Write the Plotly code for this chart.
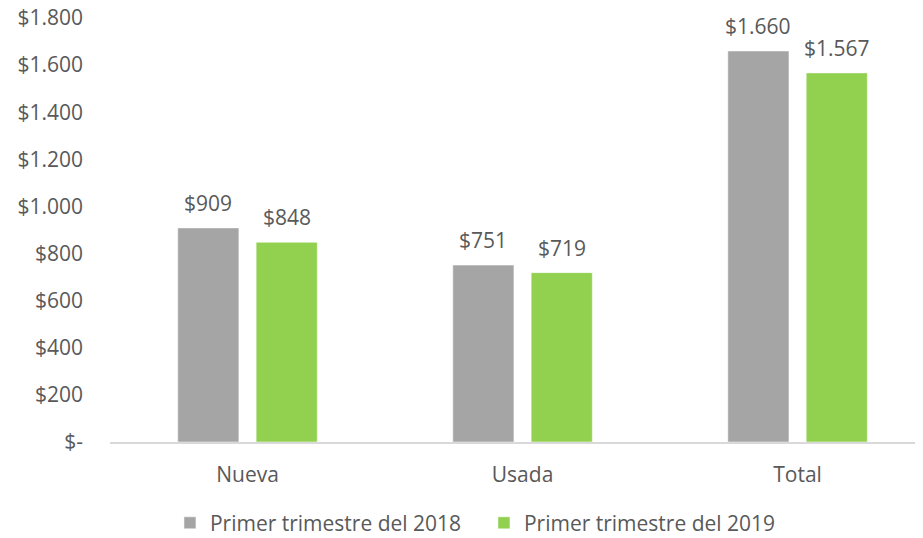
import plotly.graph_objects as go

categories = ["Nueva", "Usada", "Total"]
series_names = ["Primer trimestre del 2018", "Primer trimestre del 2019"]
values_2018 = [909, 751, 1660]
values_2019 = [848, 719, 1567]
tick_values = [0, 200, 400, 600, 800, 1000, 1200, 1400, 1600, 1800]
colors = ["#A5A5A5", "#92D050"]

def fmt(v):
    if v == 0:
        return "$-"
    return "$" + f"{v:,}".replace(",", ".")

font_family = "'Open Sans', sans-serif"
text_color = "#595959"
fsize = 21
bargap = 0.43
bargroupgap = 0.22

fig = go.Figure()
for name, vals, col in zip(series_names, [values_2018, values_2019], colors):
    fig.add_trace(go.Bar(
        x=categories, y=vals, name=name,
        marker=dict(color=col, line=dict(color="white", width=0.5)),
        hoverinfo="x+y",
    ))

# data labels above each bar
slot = (1 - bargap) / 2
series_vals = [values_2018, values_2019]
for s, vals in enumerate(series_vals):
    off = (s - 0.5) * slot
    for i, v in enumerate(vals):
        fig.add_annotation(
            x=i + off, y=v, xref="x", yref="y",
            text=fmt(v), showarrow=False, yanchor="bottom", yshift=9,
            font=dict(size=fsize, color=text_color, family=font_family),
        )

fig.update_layout(
    width=915, height=530,
    margin=dict(l=102, r=0, t=10, b=96, autoexpand=False),
    paper_bgcolor="white", plot_bgcolor="white",
    barmode="group", bargap=bargap, bargroupgap=bargroupgap,
    font=dict(family=font_family, size=fsize, color=text_color),
    showlegend=True,
    legend=dict(orientation="h", xref="container", yref="container",
                x=0.177, xanchor="left", y=0.028, yanchor="middle",
                font=dict(size=fsize, color=text_color), traceorder="normal",
                itemwidth=30, entrywidth=269, entrywidthmode="pixels"),
    xaxis=dict(showline=True, linecolor="#D9D9D9", linewidth=1.5, ticks="",
               range=[-0.5, 2.456], automargin=False,
               tickfont=dict(size=fsize, color=text_color), showgrid=False,
               ticklabelstandoff=13),
    yaxis=dict(range=[0, 1800], tickvals=tick_values, ticktext=[fmt(v) for v in tick_values],
               showgrid=False, zeroline=False, showline=False, ticks="", automargin=False,
               ticklabeloverflow="allow",
               tickfont=dict(size=fsize, color=text_color), ticklabelstandoff=26),
)

fig.write_html("out.html")
